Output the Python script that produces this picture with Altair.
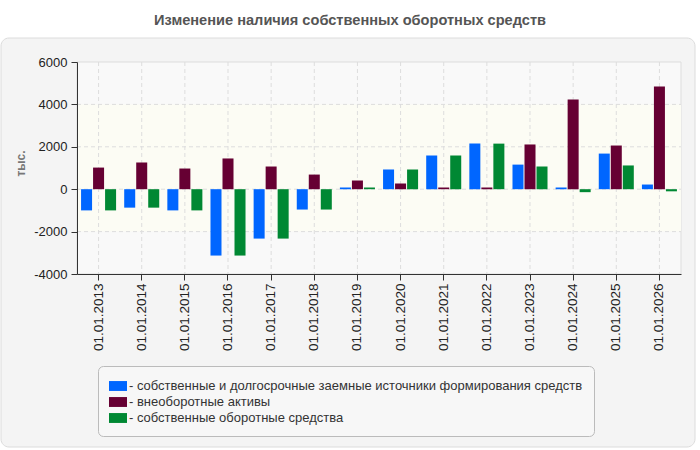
import altair as alt
import pandas as pd

# Reporting dates (categories on the x axis)
dates = [
    "01.01.2013", "01.01.2014", "01.01.2015", "01.01.2016", "01.01.2017",
    "01.01.2018", "01.01.2019", "01.01.2020", "01.01.2021", "01.01.2022",
    "01.01.2023", "01.01.2024", "01.01.2025", "01.01.2026",
]

series_names = [
    "собственные и долгосрочные заемные источники формирования средств",
    "внеоборотные активы",
    "собственные оборотные средства",
]
series_colors = ["#0066ff", "#660033", "#008833"]

# Values, thousands
own_and_longterm = [-1000, -870, -1000, -3130, -2330, -960, 80, 930, 1590, 2150, 1160, 80, 1680, 220]
noncurrent_assets = [1020, 1260, 975, 1450, 1070, 690, 410, 270, 80, 80, 2110, 4230, 2060, 4840]
own_working = [-1000, -870, -1000, -3130, -2330, -960, 80, 930, 1590, 2150, 1070, -140, 1120, -100]

y_ticks = [-4000, -2000, 0, 2000, 4000, 6000]
grid_levels = [-2000, 0, 2000, 4000]
band_range = [-2000, 4000]

chart_title = "Изменение наличия собственных оборотных средств"
FONT = "Liberation Sans"

rows = []
for i, d in enumerate(dates):
    for name, vals in zip(series_names, [own_and_longterm, noncurrent_assets, own_working]):
        rows.append({"date": d, "series": name, "value": vals[i]})
df = pd.DataFrame(rows)

W, H = 604, 212

x_scale = alt.Scale(domain=dates, paddingInner=0.188, paddingOuter=0.094)
y_scale = alt.Scale(domain=[-4000, 6000], nice=False, zero=False)

y_axis = alt.Axis(
    values=y_ticks, labelExpr="'' + datum.value", grid=False,
    domainColor="#333333", tickColor="#333333", tickSize=6,
    labelFontSize=13, labelColor="#222222", labelFont=FONT, labelPadding=4,
    title="тыс.", titleX=-57, titleY=101, titleAngle=270,
    titleAlign="center", titleBaseline="middle",
    titleColor="#777777", titleFontSize=12, titleFontWeight="bold", titleFont=FONT,
    zindex=1,
)
x_axis = alt.Axis(
    labelAngle=270, grid=False, domainColor="#333333", tickColor="#333333",
    tickSize=6, labelFontSize=13.5, labelColor="#222222", labelFont=FONT,
    labelPadding=3, title="", zindex=1,
)

one = alt.Data(values=[{"k": 1}])

# Rounded grey panel behind the plot and legend
panel = alt.Chart(one).mark_rect(
    fill="#f4f4f4", stroke="#dcdcdc", cornerRadius=8
).encode(x=alt.value(-76), x2=alt.value(618), y=alt.value(-24), y2=alt.value(385))

# Plot area background with border
plot_bg = alt.Chart(one).mark_rect(
    fill="#f9f9f9", stroke="#dddddd", strokeWidth=1
).encode(x=alt.value(0), x2=alt.value(W), y=alt.value(0), y2=alt.value(H))

band = alt.Chart(pd.DataFrame({"lo": [band_range[0]], "hi": [band_range[1]]})).mark_rect(
    fill="#fcfcf4"
).encode(
    x=alt.value(0), x2=alt.value(W),
    y=alt.Y("lo:Q", scale=y_scale, axis=y_axis), y2="hi:Q",
)

hgrid = alt.Chart(pd.DataFrame({"lvl": grid_levels})).mark_rule(
    stroke="#dddddd", strokeDash=[4, 3]
).encode(
    y=alt.Y("lvl:Q", scale=y_scale, axis=y_axis),
    x=alt.value(0), x2=alt.value(W),
)

vgrid = alt.Chart(pd.DataFrame({"date": dates})).mark_rule(
    stroke="#dddddd", strokeDash=[4, 3]
).encode(
    x=alt.X("date:N", scale=x_scale, sort=dates, axis=x_axis),
    y=alt.value(0), y2=alt.value(H),
)

bars = alt.Chart(df).mark_bar().encode(
    x=alt.X("date:N", scale=x_scale, sort=dates, axis=x_axis),
    xOffset=alt.XOffset(
        "series:N", sort=series_names,
        scale=alt.Scale(domain=series_names, paddingInner=0.083, paddingOuter=0),
    ),
    y=alt.Y("value:Q", scale=y_scale, axis=y_axis),
    color=alt.Color(
        "series:N", sort=series_names,
        scale=alt.Scale(domain=series_names, range=series_colors),
        legend=alt.Legend(
            orient="none", legendX=21, legendY=304, title=None,
            fillColor="#f7f7f7", strokeColor="#bbbbbb", cornerRadius=5,
            padding=11, labelFontSize=13, labelColor="#333333", labelFont=FONT,
            symbolType="M-1,-0.55H1V0.55H-1Z", symbolSize=324,
            symbolStrokeWidth=0, rowPadding=-1, labelOffset=2, labelLimit=700,
            labelExpr="'- ' + datum.label", zindex=1,
        ),
    ),
)

title = alt.Chart(one).mark_text(
    text=chart_title, font=FONT, fontSize=14.6, fontWeight="bold",
    color="#555555", align="center", baseline="middle",
).encode(x=alt.value(273), y=alt.value(-41))

chart = alt.layer(panel, plot_bg, band, hgrid, vgrid, bars, title).properties(
    width=W, height=H,
    autosize=alt.AutoSizeParams(type="none"),
    padding={"left": 77, "top": 62, "right": 19, "bottom": 176},
    background="white",
).configure_view(strokeWidth=0).configure(font=FONT)

chart.save("out.html", embed_options={"renderer": "svg", "actions": False})
